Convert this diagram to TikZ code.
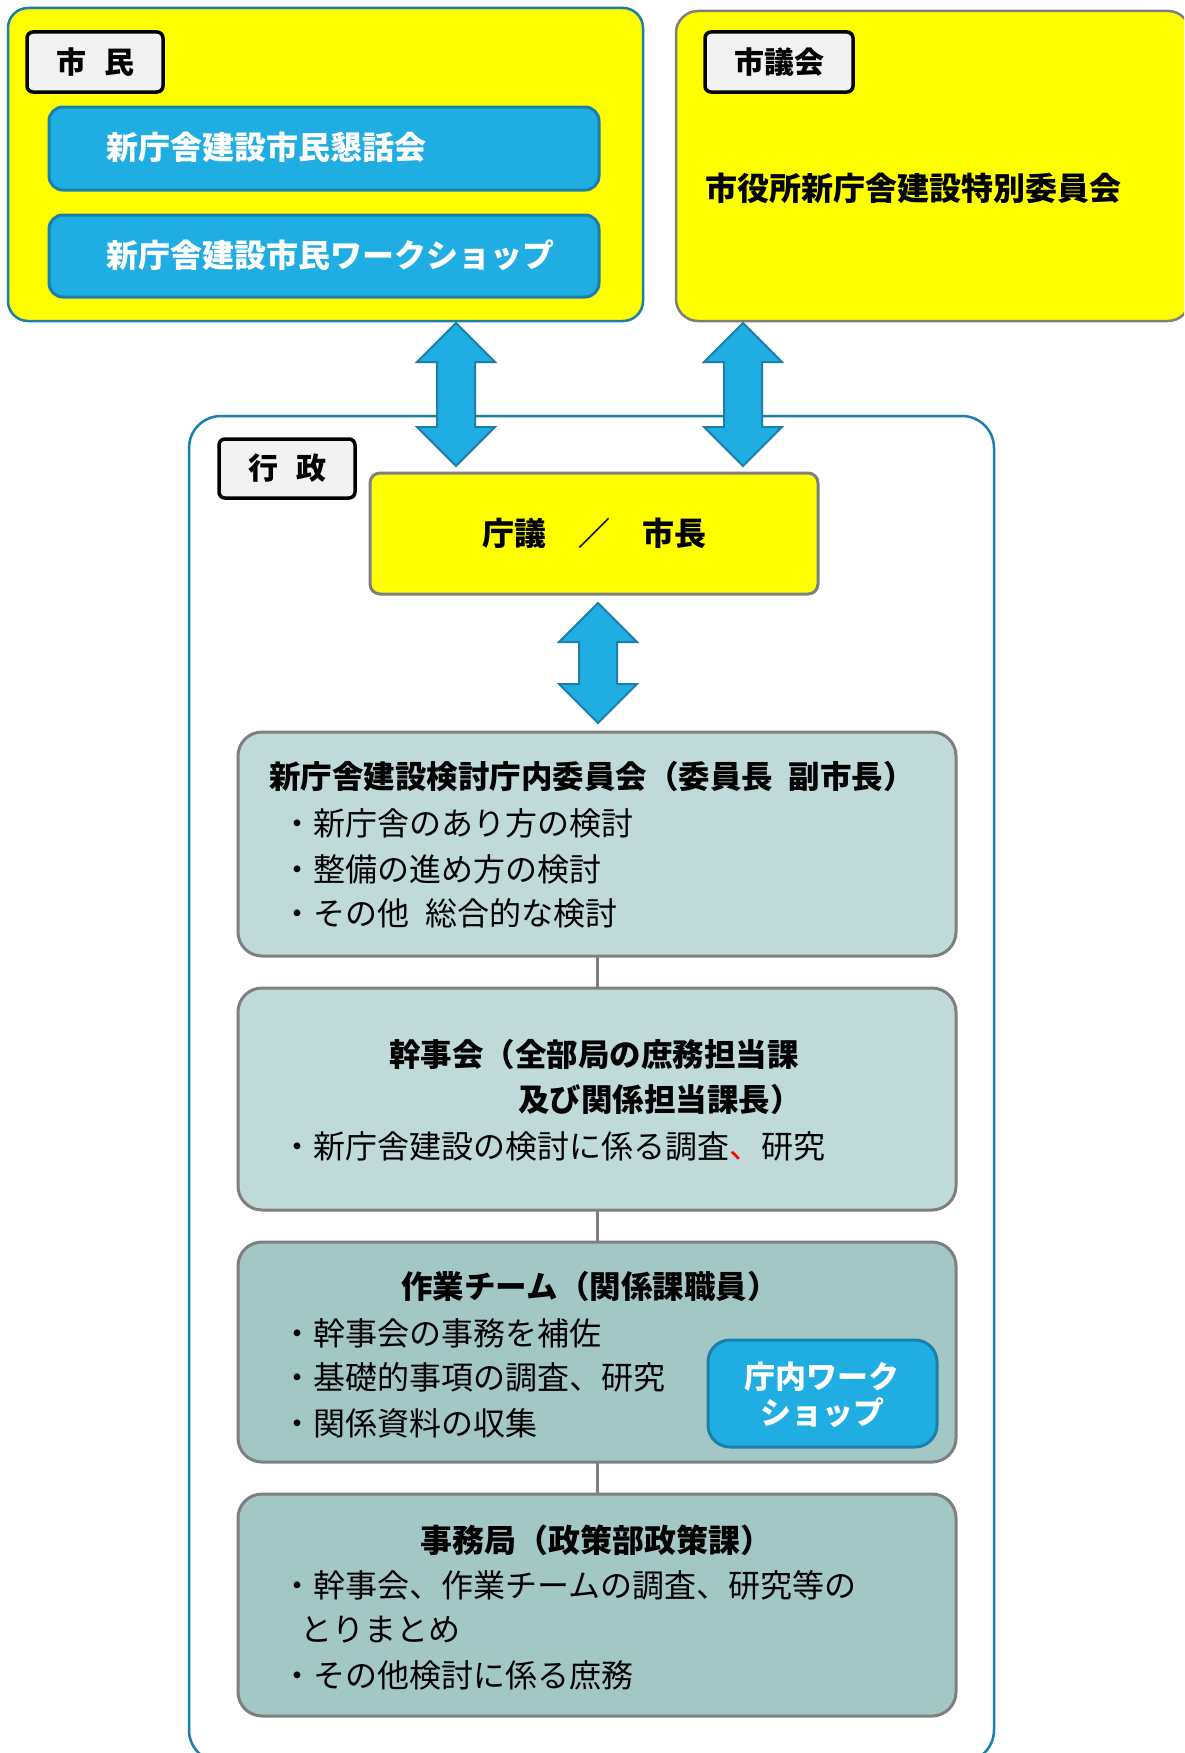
\documentclass[tikz,border=0pt]{standalone}
\usepackage{fontspec}
\setmainfont{Noto Sans CJK JP}
\definecolor{ylw}{HTML}{FFFF00}
\definecolor{skyb}{HTML}{1FADE2}
\definecolor{darkb}{HTML}{1A7FAA}
\definecolor{grayb}{HTML}{7F7F7F}
\definecolor{lightt}{HTML}{BFDAD9}
\definecolor{darkt}{HTML}{A2C7C4}
\definecolor{lblf}{HTML}{F2F2F2}
\newcommand\dblarr[3]{%
  \draw[arrshape] (#1,#2) -- (#1+39,#2+39) -- (#1+19,#2+39) -- (#1+19,#3-39) -- (#1+39,#3-39) -- (#1,#3)
    -- (#1-39,#3-39) -- (#1-19,#3-39) -- (#1-19,#2+39) -- (#1-39,#2+39) -- cycle;}
\begin{document}
\begin{tikzpicture}[x=1pt,y=-1pt,
  every node/.style={inner sep=0pt, outer sep=0pt},
  boxat/.style={anchor=north west},
  outerylw/.style={boxat, draw=darkb, line width=2.5pt, fill=ylw, rounded corners=20pt},
  outergray/.style={boxat, draw=grayb, line width=2.5pt, fill=ylw, rounded corners=22pt},
  outerwhite/.style={boxat, draw=darkb, line width=2.5pt, fill=white, rounded corners=32pt},
  lblbox/.style={boxat, draw=black, line width=3.5pt, fill=lblf, rounded corners=6pt, font=\fontsize{30}{36}\selectfont\bfseries},
  bluebox/.style={boxat, draw=darkb, line width=3pt, fill=skyb, rounded corners=14pt},
  ylwbox/.style={boxat, draw=grayb, line width=3pt, fill=ylw, rounded corners=10pt},
  tealbox/.style={boxat, draw=grayb, line width=3pt, rounded corners=24pt},
  t32/.style={anchor=west, font=\fontsize{32}{38}\selectfont},
  b32/.style={anchor=west, font=\fontsize{32}{38}\selectfont\bfseries},
  b31/.style={anchor=west, font=\fontsize{31.5}{37}\selectfont\bfseries},
  wb32/.style={anchor=west, text=white, font=\fontsize{32}{38}\selectfont\bfseries},
  arrshape/.style={fill=skyb, draw=darkb, line width=2pt, line join=miter},
  conn/.style={draw=grayb, line width=3pt}
]
\useasboundingbox (0,0) rectangle (1184,1753);
\fill[white] (0,0) rectangle (1184,1753);
\clip (0,0) rectangle (1184,1753);

% top left: citizens
\node[outerylw, minimum width=635pt, minimum height=313pt] (shimin) at (8,8) {};
\node[lblbox, minimum width=136pt, minimum height=60pt] (shiminlbl) at (27,32) {市\hspace{0.6em}民};
\node[bluebox, minimum width=550pt, minimum height=83pt] (kondan) at (49,107) {};
\node[wb32] (kondant) at (106,147) {新庁舎建設市民懇話会};
\node[bluebox, minimum width=550pt, minimum height=82pt] (ws) at (49,215) {};
\node[wb32] (wst) at (106,255) {新庁舎建設市民ワークショップ};

% top right: council
\node[outergray, minimum width=514pt, minimum height=310pt] (gikai) at (676,11) {};
\node[lblbox, minimum width=148pt, minimum height=60pt] (gikailbl) at (705,32) {市議会};
\node[b32] (tokubetsu) at (705,188) {市役所新庁舎建設特別委員会};

% administration
\node[outerwhite, minimum width=805pt, minimum height=1346pt] (gyosei) at (189,416) {};
\node[lblbox, minimum width=136pt, minimum height=59pt] (gyoseilbl) at (219,439) {行\hspace{0.6em}政};
\node[ylwbox, minimum width=448pt, minimum height=121pt, font=\fontsize{32}{38}\selectfont\bfseries] (chogi) at (370,473) {庁議　／　市長};

% arrows
\dblarr{456}{323}{466}
\dblarr{743}{323}{466}
\dblarr{598}{603}{723}

% box 1
\node[tealbox, fill=lightt, minimum width=718pt, minimum height=224pt] (b1) at (238,732) {};
\node[b31] (b1t) at (269,777) {新庁舎建設検討庁内委員会（委員長\hspace{0.5em}副市長）};
\node[t32] (b1a) at (281,823) {・新庁舎のあり方の検討};
\node[t32] (b1b) at (281,869) {・整備の進め方の検討};
\node[t32] (b1c) at (281,913) {・その他\hspace{0.5em}総合的な検討};

% box 2
\node[tealbox, fill=lightt, minimum width=718pt, minimum height=222pt] (b2) at (238,988) {};
\node[b31] (b2t1) at (389,1055) {幹事会（全部局の庶務担当課};
\node[b31] (b2t2) at (518,1100) {及び関係担当課長）};
\node[t32] (b2a) at (281,1146) {・新庁舎建設の検討に係る調査{\color{red}、}研究};

% box 3
\node[tealbox, fill=darkt, minimum width=718pt, minimum height=220pt] (b3) at (238,1242) {};
\node[b31, anchor=center] (b3t) at (590,1287) {作業チーム（関係課職員）};
\node[t32] (b3a) at (281,1333) {・幹事会の事務を補佐};
\node[t32] (b3b) at (281,1377) {・基礎的事項の調査、研究};
\node[t32] (b3c) at (281,1423) {・関係資料の収集};
\node[bluebox, rounded corners=22pt, minimum width=229pt, minimum height=107pt] (ws2) at (708,1340) {};
\node[wb32, anchor=center, font=\fontsize{31}{37}\selectfont\bfseries] (ws2a) at (822,1377) {庁内ワーク};
\node[wb32, anchor=center, font=\fontsize{31}{37}\selectfont\bfseries] (ws2b) at (822,1413) {ショップ};

% box 4
\node[tealbox, fill=darkt, minimum width=718pt, minimum height=222pt] (b4) at (238,1494) {};
\node[b32, anchor=center] (b4t) at (596,1540) {事務局（政策部政策課）};
\node[t32] (b4a) at (281,1585) {・幹事会、作業チームの調査、研究等の};
\node[t32] (b4b) at (300,1630) {とりまとめ};
\node[t32] (b4c) at (281,1675) {・その他検討に係る庶務};

% connectors
\draw[conn] (b1.south) -- (b2.north);
\draw[conn] (b2.south) -- (b3.north);
\draw[conn] (b3.south) -- (b4.north);
\end{tikzpicture}
\end{document}
